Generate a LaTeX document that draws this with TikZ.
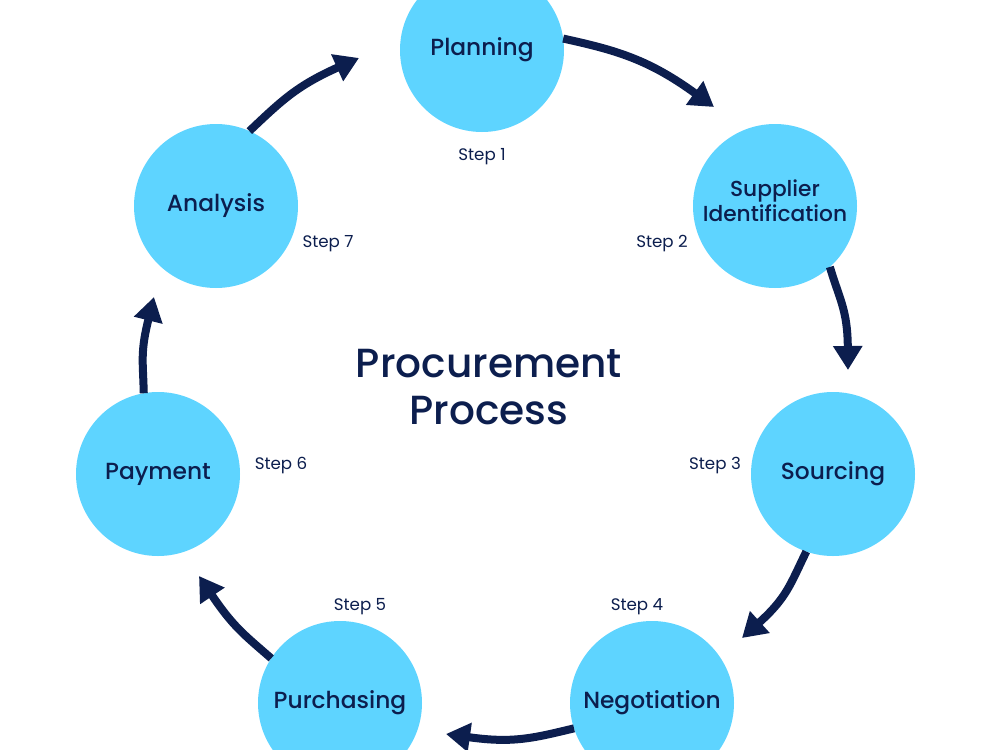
\documentclass[tikz,border=0pt]{standalone}
\usepackage{fontspec}
\setmainfont{Poppins}
\newfontfamily\pmed{Poppins Medium}
\usetikzlibrary{arrows.meta}
\definecolor{cfill}{RGB}{94,212,255}
\definecolor{navy}{RGB}{12,30,78}
\tikzset{
  stepcircle/.style={circle,fill=cfill,draw=none,minimum size=123pt,inner sep=0pt,outer sep=0pt,
    text=navy,font=\pmed\fontsize{17.5}{19.5}\selectfont,align=center},
  circletext/.style={text=navy,font=\pmed\fontsize{16.3}{19}\selectfont,align=center,inner sep=0pt},
  steplabel/.style={text=navy,font=\fontsize{12.5}{14}\selectfont,inner sep=0pt},
  titlelabel/.style={text=navy,font=\pmed\fontsize{30.5}{35}\selectfont,align=center,inner sep=0pt},
  flow/.style={draw=navy,line width=6pt,-{Triangle[width=21pt,length=18pt]}}
}
\begin{document}
\begin{tikzpicture}[x=0.75pt,y=-0.75pt]
\useasboundingbox (0,0) rectangle (1000,750);
\clip (0,0) rectangle (1000,750);
\fill[white] (0,0) rectangle (1000,750);

\node[stepcircle] (plan) at (482,50) {Planning};
\node[stepcircle] (sup) at (775,206) {};
\node[circletext] (suptext) at (775,201) {Supplier\\Identification};
\node[stepcircle] (src) at (833,474) {Sourcing};
\node[stepcircle] (neg) at (652,703) {Negotiation};
\node[stepcircle] (pur) at (340,703) {Purchasing};
\node[stepcircle] (pay) at (158,474) {Payment};
\node[stepcircle] (ana) at (216,206) {Analysis};

\node[steplabel] (s1) at (482,156.5) {Step 1};
\node[steplabel] (s2) at (662,243.5) {Step 2};
\node[steplabel] (s3) at (715,465.5) {Step 3};
\node[steplabel] (s4) at (637,606.5) {Step 4};
\node[steplabel] (s5) at (360,606.5) {Step 5};
\node[steplabel] (s6) at (281,465.5) {Step 6};
\node[steplabel] (s7) at (328,243.5) {Step 7};

\node[titlelabel] (title) at (489,387) {Procurement\\Process};

\coordinate (e1) at (714,107);
\coordinate (e2) at (848,370);
\coordinate (e3) at (742,638);
\coordinate (e4) at (446,734);
\coordinate (e5) at (199,576);
\coordinate (e6) at (154,297);
\coordinate (e7) at (359,58);

\draw[flow] (plan.8) .. controls (617.6,50.4) and (649.3,60) .. (e1);
\draw[flow] (sup.-48) .. controls (839.8,300.3) and (847.5,310) .. (e2);
\draw[flow] (src.-109) .. controls (790,585) and (786.6,597.9) .. (e3);
\draw[flow] (neg.-162) .. controls (532,738.5) and (512.3,743.3) .. (e4);
\draw[flow] (pur.147) .. controls (243.8,634.4) and (233.1,626.6) .. (e5);
\draw[flow] (pay.100) .. controls (143,361) and (140.2,352.3) .. (e6);
\draw[flow] (ana.66) .. controls (282,100.2) and (296.9,85.7) .. (e7);
\end{tikzpicture}
\end{document}
